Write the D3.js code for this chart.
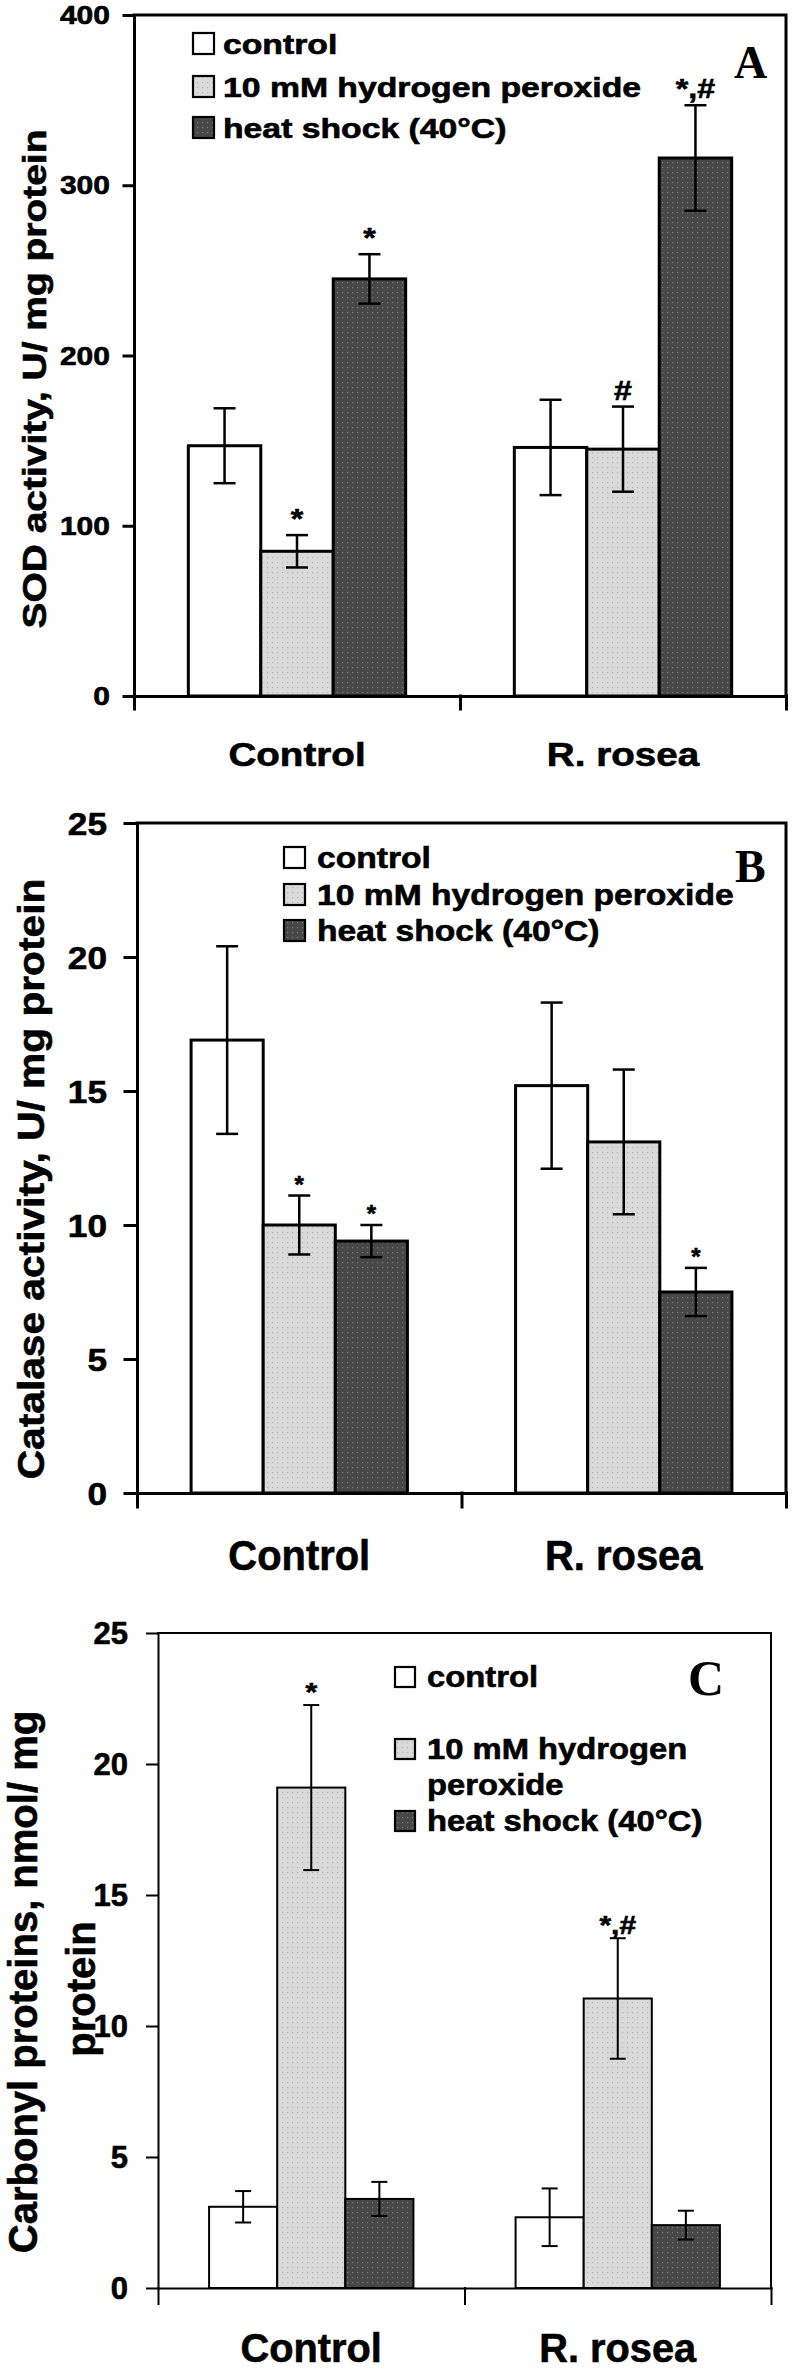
<!DOCTYPE html>
<html><head><meta charset="utf-8">
<script src="https://cdn.jsdelivr.net/npm/d3@7"></script>
<style>html,body{margin:0;padding:0;background:#fff;} svg{display:block;}</style>
</head><body>
<script>
// ---------- DATA ----------
const groups = ["Control", "R. rosea"];
const seriesNames = ["control", "10 mM hydrogen peroxide", "heat shock (40°C)"];
const seriesNamesC = [["control"], ["10 mM hydrogen", "peroxide"], ["heat shock (40°C)"]];

// Panel A: SOD activity, U/ mg protein  [group][series]
const sodMean  = [[147, 85, 245], [146, 145, 316]];
const sodErr   = [[22, 9.5, 14.5], [28, 25, 31]];
const sodMarks = [["", "*", "*"], ["", "#", "*,#"]];
const sodTicks = [0, 100, 200, 300, 400];

// Panel B: Catalase activity, U/ mg protein
const catMean  = [[16.9, 10.0, 9.4], [15.2, 13.1, 7.5]];
const catErr   = [[3.5, 1.1, 0.6], [3.1, 2.7, 0.9]];
const catMarks = [["", "*", "*"], ["", "", "*"]];
const catTicks = [0, 5, 10, 15, 20, 25];

// Panel C: Carbonyl proteins, nmol/ mg protein
const carbMean  = [[3.1, 19.1, 3.4], [2.7, 11.05, 2.4]];
const carbErr   = [[0.6, 3.15, 0.65], [1.1, 2.3, 0.55]];
const carbMarks = [["", "*", ""], ["", "*,#", ""]];
const carbTicks = [0, 5, 10, 15, 20, 25];

// ---------- LAYOUT ----------
const W = 792, H = 2372;
const svg = d3.select("body").append("svg").attr("width", W).attr("height", H)
  .style("background", "#fff");

const defs = svg.append("defs");
function dotPattern(id, bg, dot) {
  const p = defs.append("pattern").attr("id", id).attr("width", 5).attr("height", 5)
    .attr("patternUnits", "userSpaceOnUse");
  p.append("rect").attr("width", 5).attr("height", 5).attr("fill", bg);
  p.append("rect").attr("x", 2).attr("y", 2).attr("width", 1.2).attr("height", 1.2).attr("fill", dot);
}
dotPattern("lightDots", "#dadada", "#b5b5b5");
dotPattern("darkDots", "#474747", "#7b7b7b");
const fills = ["#ffffff", "url(#lightDots)", "url(#darkDots)"];

const SANS = "'Liberation Sans', Arial, Helvetica, sans-serif";
const SERIF = "'Liberation Serif', 'Times New Roman', serif";

function txt(g, x, y, str, o) {
  const t = g.append("text")
    .attr("transform", `translate(${x},${y}) rotate(${o.rotate || 0}) scale(${o.sx || 1},1)`)
    .attr("text-anchor", o.anchor || "start")
    .attr("font-family", o.family || SANS)
    .attr("font-weight", o.weight || "bold")
    .attr("font-size", o.size)
    .attr("fill", "#000")
    .text(str);
  if (!o.family) t.attr("stroke", "#000").attr("stroke-width", 0.6);
  if (o.dy) t.attr("dy", o.dy);
  return t;
}

const panels = [
  { mean: sodMean, err: sodErr, marks: sodMarks, ticks: sodTicks, max: 400,
    left: 134, right: 786, top: 15, bottom: 696, lw: 3, tL: 10, tD: 13,
    tickFont: 25, tickSx: 1.2, tickRight: 110,
    title: ["SOD activity, U/ mg protein"], titleX: [46], titleCY: [379], titleFont: 33, titleSx: 1.18,
    xlabFont: 33, xlabSx: 1.17, xlabY: 766,
    legNames: seriesNames.map(s => [s]), legX: 193, legY: [33, 76, 117], legBox: 21, legTextX: 223,
    legFont: 27, legSx: 1.25, legLine: 36,
    letter: "A", letterX: 734, letterY: 78, letterSize: 46,
    capW: 22, errLw: 2.5, markFont: 28, markSx: 1.15, markGap: 7 },
  { mean: catMean, err: catErr, marks: catMarks, ticks: catTicks, max: 25,
    left: 137, right: 786, top: 823, bottom: 1493, lw: 3, tL: 12, tD: 14,
    tickFont: 32, tickSx: 1.1, tickRight: 107,
    title: ["Catalase activity, U/ mg protein"], titleX: [44], titleCY: [1179], titleFont: 37, titleSx: 1.1,
    xlabFont: 42, xlabSx: 0.95, xlabY: 1570,
    legNames: seriesNames.map(s => [s]), legX: 284, legY: [847, 884, 920], legBox: 21, legTextX: 317,
    legFont: 29, legSx: 1.16, legLine: 36,
    letter: "B", letterX: 735, letterY: 882, letterSize: 46,
    capW: 22, errLw: 2.5, markFont: 24, markSx: 1.0, markGap: 3 },
  { mean: carbMean, err: carbErr, marks: carbMarks, ticks: carbTicks, max: 25,
    left: 158, right: 771, top: 1633, bottom: 2288, lw: 2, tL: 11, tD: 16,
    tickFont: 31, tickSx: 1.0, tickRight: 128,
    title: ["Carbonyl proteins, nmol/ mg", "protein"], titleX: [37, 95], titleCY: [1982, 1989], titleFont: 40, titleSx: 1.0,
    xlabFont: 41, xlabSx: 0.97, xlabY: 2362,
    legNames: seriesNamesC, legX: 395, legY: [1667, 1739, 1811], legBox: 20, legTextX: 427,
    legFont: 29, legSx: 1.13, legLine: 36,
    letter: "C", letterX: 688, letterY: 1695, letterSize: 50,
    capW: 16, errLw: 2, markFont: 26, markSx: 1.15, markGap: 4 }
];

panels.forEach(p => {
  const g = svg.append("g");
  const y = d3.scaleLinear().domain([0, p.max]).range([p.bottom, p.top]);
  const x0 = d3.scaleBand().domain(groups).range([p.left, p.right]).padding(0);
  const bw = x0.bandwidth();
  const x1 = d3.scaleBand().domain([0, 1, 2]).range([bw / 6, bw * 5 / 6]).padding(0);
  const xl = d3.scaleLinear().domain([0, groups.length]).range([p.left, p.right]);

  // bars
  groups.forEach((grp, gi) => {
    p.mean[gi].forEach((v, si) => {
      g.append("rect")
        .attr("x", x0(grp) + x1(si)).attr("y", y(v))
        .attr("width", x1.bandwidth()).attr("height", y(0) - y(v))
        .attr("fill", fills[si]).attr("stroke", "#000").attr("stroke-width", p.lw);
    });
  });

  // frame (top & right)
  g.append("path")
    .attr("d", `M${p.left},${y(p.max)}H${p.right}V${y(0)}`)
    .attr("fill", "none").attr("stroke", "#000").attr("stroke-width", p.lw)
    .attr("stroke-linecap", "square");

  // axes
  const ya = g.append("g").attr("transform", `translate(${p.left},0)`)
    .call(d3.axisLeft(y).tickValues(p.ticks).tickSize(p.tL).tickSizeOuter(0).tickFormat(""));
  const xa = g.append("g").attr("transform", `translate(0,${y(0)})`)
    .call(d3.axisBottom(xl).tickValues(d3.range(groups.length + 1)).tickSize(p.tD).tickSizeOuter(0).tickFormat(""));
  [ya, xa].forEach(a => {
    a.selectAll("path,line").attr("stroke", "#000").attr("stroke-width", p.lw).attr("stroke-linecap", "square");
  });

  // tick labels
  p.ticks.forEach(t => txt(g, p.tickRight, y(t), String(t),
    { size: p.tickFont, sx: p.tickSx, anchor: "end", dy: "0.36em" }));

  // group labels
  groups.forEach(grp => txt(g, x0(grp) + bw / 2, p.xlabY, grp,
    { size: p.xlabFont, sx: p.xlabSx, anchor: "middle" }));

  // y title
  p.title.forEach((line, i) => txt(g, p.titleX[i], p.titleCY[i], line,
    { size: p.titleFont, sx: p.titleSx, anchor: "middle", rotate: -90 }));

  // error bars
  groups.forEach((grp, gi) => {
    p.mean[gi].forEach((v, si) => {
      const cx = x0(grp) + x1(si) + x1.bandwidth() / 2;
      const e = p.err[gi][si];
      const yt = y(v + e), yb = y(v - e);
      const eg = g.append("g").attr("stroke", "#000").attr("stroke-width", p.errLw);
      eg.append("line").attr("x1", cx).attr("x2", cx).attr("y1", yt).attr("y2", yb);
      eg.append("line").attr("x1", cx - p.capW / 2).attr("x2", cx + p.capW / 2).attr("y1", yt).attr("y2", yt);
      eg.append("line").attr("x1", cx - p.capW / 2).attr("x2", cx + p.capW / 2).attr("y1", yb).attr("y2", yb);
      const m = p.marks[gi][si];
      if (m) txt(g, cx, yt - p.markGap, m, { size: p.markFont, sx: p.markSx, anchor: "middle" });
    });
  });

  // legend
  p.legNames.forEach((lines, si) => {
    const by = p.legY[si];
    g.append("rect").attr("x", p.legX).attr("y", by).attr("width", p.legBox).attr("height", p.legBox)
      .attr("fill", fills[si]).attr("stroke", "#000").attr("stroke-width", 2.2);
    lines.forEach((ln, li) => txt(g, p.legTextX, by + p.legBox + li * p.legLine, ln,
      { size: p.legFont, sx: p.legSx }));
  });

  // panel letter
  txt(g, p.letterX, p.letterY, p.letter, { size: p.letterSize, family: SERIF });
});
</script>
</body></html>
